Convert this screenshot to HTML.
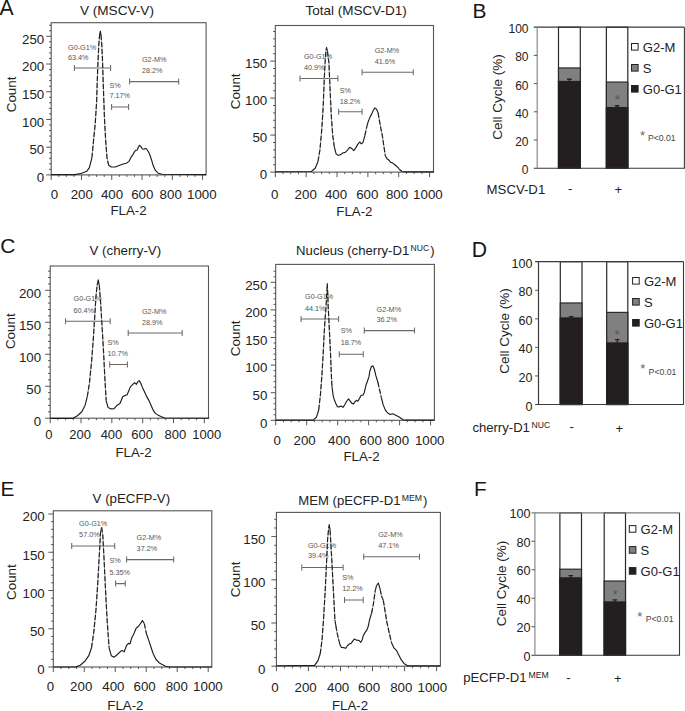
<!DOCTYPE html>
<html><head><meta charset="utf-8"><style>
html,body{margin:0;padding:0;background:#fff;}
svg{display:block;font-family:"Liberation Sans", sans-serif;}
</style></head><body>
<svg width="685" height="711" viewBox="0 0 685 711">
<rect width="685" height="711" fill="#fff"/>
<text x="-0.6" y="14.7" font-size="21.2" text-anchor="start" fill="#161616">A</text>
<text x="472.5" y="18.2" font-size="20.9" text-anchor="start" fill="#161616">B</text>
<text x="0.3" y="252.8" font-size="21" text-anchor="start" fill="#161616">C</text>
<text x="471.7" y="256.5" font-size="21.2" text-anchor="start" fill="#161616">D</text>
<text x="0.5" y="496.4" font-size="20.8" text-anchor="start" fill="#161616">E</text>
<text x="474.1" y="496.4" font-size="20.8" text-anchor="start" fill="#161616">F</text>
<rect x="51.2" y="22.7" width="154.9" height="152.2" fill="none" stroke="#555" stroke-width="1.1"/>
<path d="M46.2 174.9H51.2M49 169.36H51.2M49 163.81H51.2M49 158.27H51.2M49 152.72H51.2M46.2 147.18H51.2M49 141.64H51.2M49 136.09H51.2M49 130.55H51.2M49 125H51.2M46.2 119.46H51.2M49 113.92H51.2M49 108.37H51.2M49 102.83H51.2M49 97.28H51.2M46.2 91.74H51.2M49 86.2H51.2M49 80.65H51.2M49 75.11H51.2M49 69.56H51.2M46.2 64.02H51.2M49 58.48H51.2M49 52.93H51.2M49 47.39H51.2M49 41.84H51.2M46.2 36.3H51.2M49 30.76H51.2M49 25.21H51.2M51.2 174.9V179.9M58.77 174.9V176.9M66.34 174.9V176.9M73.91 174.9V176.9M81.48 174.9V179.9M89.05 174.9V176.9M96.62 174.9V176.9M104.19 174.9V176.9M111.76 174.9V179.9M119.33 174.9V176.9M126.9 174.9V176.9M134.47 174.9V176.9M142.04 174.9V179.9M149.61 174.9V176.9M157.18 174.9V176.9M164.75 174.9V176.9M172.32 174.9V179.9M179.89 174.9V176.9M187.46 174.9V176.9M195.03 174.9V176.9M202.6 174.9V179.9" stroke="#555" stroke-width="1" fill="none"/>
<text x="44.2" y="182.2" font-size="13.3" text-anchor="end" fill="#222">0</text>
<text x="44.2" y="154.48" font-size="13.3" text-anchor="end" fill="#222">50</text>
<text x="44.2" y="126.76" font-size="13.3" text-anchor="end" fill="#222">100</text>
<text x="44.2" y="99.04" font-size="13.3" text-anchor="end" fill="#222">150</text>
<text x="44.2" y="71.32" font-size="13.3" text-anchor="end" fill="#222">200</text>
<text x="44.2" y="43.6" font-size="13.3" text-anchor="end" fill="#222">250</text>
<text x="54.5" y="198.5" font-size="13.3" text-anchor="middle" fill="#222">0</text>
<text x="81.8" y="198.5" font-size="13.3" text-anchor="middle" fill="#222">200</text>
<text x="112" y="198.5" font-size="13.3" text-anchor="middle" fill="#222">400</text>
<text x="142.3" y="198.5" font-size="13.3" text-anchor="middle" fill="#222">600</text>
<text x="170.7" y="198.5" font-size="13.3" text-anchor="middle" fill="#222">800</text>
<text x="201.8" y="198.5" font-size="13.3" text-anchor="middle" fill="#222">1000</text>
<text x="0" y="0" font-size="13.4" text-anchor="middle" fill="#222" transform="translate(15.7 94.4) rotate(-90)">Count</text>
<text x="128.5" y="215.2" font-size="13.3" text-anchor="middle" fill="#222">FLA-2</text>
<text x="79.9" y="15" font-size="13.6" fill="#222">V (MSCV-V)</text>
<path d="M74.4 67.9H110.6M74.4 64.9V70.9M110.6 64.9V70.9" stroke="#6a6a6a" stroke-width="1.05" fill="none"/>
<path d="M111.6 106.9H128.6M111.6 103.9V109.9M128.6 103.9V109.9" stroke="#6a6a6a" stroke-width="1.05" fill="none"/>
<path d="M129.6 81.6H178.7M129.6 78.6V84.6M178.7 78.6V84.6" stroke="#6a6a6a" stroke-width="1.05" fill="none"/>
<text x="68" y="49.7" font-size="7.25" text-anchor="start" fill="#555">G0-G1%</text>
<text x="68" y="59.9" font-size="7.25" text-anchor="start" fill="#555">63.4%</text>
<text x="109.5" y="87.6" font-size="7.25" text-anchor="start" fill="#555">S%</text>
<text x="109.5" y="98" font-size="7.25" text-anchor="start" fill="#555">7.17%</text>
<text x="141.9" y="62.1" font-size="7.25" text-anchor="start" fill="#555">G2-M%</text>
<text x="141.9" y="73.4" font-size="7.25" text-anchor="start" fill="#555">28.2%</text>
<path d="M51.3 174.6 L75 174.6 L81.7 173.3 L86.8 171.2 L89.3 167.9 L91.9 157.8" stroke="#1e1e1e" stroke-width="1.15" fill="none" stroke-linejoin="round"/>
<path d="M91.9 157.8 L93.5 140.9 L95.2 124 L96.6 102.1 L97.4 76.9 L98.1 60 L98.8 45 L99.6 35" stroke="#a8a8a8" stroke-width="1.1" fill="none" stroke-linejoin="round"/>
<path d="M91.9 157.8 L93.5 140.9 L95.2 124 L96.6 102.1 L97.4 76.9 L98.1 60 L98.8 45 L99.6 35" stroke="#1e1e1e" stroke-width="1.15" fill="none" stroke-dasharray="5 2" stroke-linejoin="round"/>
<path d="M99.6 35 L100.3 31.2 L101 35" stroke="#1e1e1e" stroke-width="1.15" fill="none" stroke-linejoin="round"/>
<path d="M101 35 L101.8 45 L102.5 60 L103.3 85.3 L104.5 119 L105.7 140.9 L107 157.8 L108.7 165.3" stroke="#a8a8a8" stroke-width="1.1" fill="none" stroke-linejoin="round"/>
<path d="M101 35 L101.8 45 L102.5 60 L103.3 85.3 L104.5 119 L105.7 140.9 L107 157.8 L108.7 165.3" stroke="#1e1e1e" stroke-width="1.15" fill="none" stroke-dasharray="5 2" stroke-linejoin="round"/>
<path d="M108.7 165.3 L111.2 167 L115.4 167 L119.7 165.3 L123.9 163.7 L126.4 163.2 L128.9 161.4 L131.2 156.9 L132.9 154.6 L134.6 151.6 L135.7 150.3 L137.2 150.1 L138.3 147.3 L139.4 145.3 L140.8 146.4 L142.4 149 L143.9 149.2 L145.3 148.4 L146.6 149 L148.1 151.2 L149.8 154.6 L151.5 159.7 L153.1 165.3 L155.4 170.4 L158.2 173.2 L162.1 174.3 L206.1 174.6" stroke="#1e1e1e" stroke-width="1.15" fill="none" stroke-linejoin="round"/>
<rect x="275.3" y="25.5" width="158.2" height="146.6" fill="none" stroke="#555" stroke-width="1.1"/>
<path d="M270.3 172.1H275.3M273.1 164.7H275.3M273.1 157.3H275.3M273.1 149.9H275.3M273.1 142.5H275.3M270.3 135.1H275.3M273.1 127.7H275.3M273.1 120.3H275.3M273.1 112.9H275.3M273.1 105.5H275.3M270.3 98.1H275.3M273.1 90.7H275.3M273.1 83.3H275.3M273.1 75.9H275.3M273.1 68.5H275.3M270.3 61.1H275.3M273.1 53.7H275.3M273.1 46.3H275.3M273.1 38.9H275.3M273.1 31.5H275.3M275.3 172.1V177.1M283.01 172.1V174.1M290.73 172.1V174.1M298.44 172.1V174.1M306.16 172.1V177.1M313.88 172.1V174.1M321.59 172.1V174.1M329.31 172.1V174.1M337.02 172.1V177.1M344.74 172.1V174.1M352.45 172.1V174.1M360.17 172.1V174.1M367.88 172.1V177.1M375.6 172.1V174.1M383.31 172.1V174.1M391.02 172.1V174.1M398.74 172.1V177.1M406.46 172.1V174.1M414.17 172.1V174.1M421.88 172.1V174.1M429.6 172.1V177.1" stroke="#555" stroke-width="1" fill="none"/>
<text x="267.2" y="179.4" font-size="13.3" text-anchor="end" fill="#222">0</text>
<text x="267.2" y="142.4" font-size="13.3" text-anchor="end" fill="#222">50</text>
<text x="267.2" y="105.4" font-size="13.3" text-anchor="end" fill="#222">100</text>
<text x="267.2" y="68.4" font-size="13.3" text-anchor="end" fill="#222">150</text>
<text x="274.8" y="198.9" font-size="13.3" text-anchor="middle" fill="#222">0</text>
<text x="305.7" y="198.9" font-size="13.3" text-anchor="middle" fill="#222">200</text>
<text x="336" y="198.9" font-size="13.3" text-anchor="middle" fill="#222">400</text>
<text x="367.3" y="198.9" font-size="13.3" text-anchor="middle" fill="#222">600</text>
<text x="397" y="198.9" font-size="13.3" text-anchor="middle" fill="#222">800</text>
<text x="427.9" y="198.9" font-size="13.3" text-anchor="middle" fill="#222">1000</text>
<text x="0" y="0" font-size="13.4" text-anchor="middle" fill="#222" transform="translate(240.3 91.3) rotate(-90)">Count</text>
<text x="354.4" y="215.6" font-size="13.3" text-anchor="middle" fill="#222">FLA-2</text>
<text x="305.6" y="14.8" font-size="13.5" fill="#222">Total (MSCV-D1)</text>
<path d="M300 78.5H337.9M300 75.5V81.5M337.9 75.5V81.5" stroke="#6a6a6a" stroke-width="1.05" fill="none"/>
<path d="M338.6 111.8H362.1M338.6 108.8V114.8M362.1 108.8V114.8" stroke="#6a6a6a" stroke-width="1.05" fill="none"/>
<path d="M362.1 72.2H413.3M362.1 69.2V75.2M413.3 69.2V75.2" stroke="#6a6a6a" stroke-width="1.05" fill="none"/>
<text x="303.9" y="59.2" font-size="7.25" text-anchor="start" fill="#555">G0-G1%</text>
<text x="303.9" y="69.8" font-size="7.25" text-anchor="start" fill="#555">40.9%</text>
<text x="339.7" y="92.5" font-size="7.25" text-anchor="start" fill="#555">S%</text>
<text x="339.7" y="103.8" font-size="7.25" text-anchor="start" fill="#555">18.2%</text>
<text x="374.7" y="53.3" font-size="7.25" text-anchor="start" fill="#555">G2-M%</text>
<text x="374.7" y="63.8" font-size="7.25" text-anchor="start" fill="#555">41.6%</text>
<path d="M275.1 171.8 L311.4 171.5 L315.2 168.2 L318 161.5" stroke="#1e1e1e" stroke-width="1.15" fill="none" stroke-linejoin="round"/>
<path d="M318 161.5 L319.9 150.1 L321.8 129.2 L323.2 106.5 L324.3 78 L325.3 59 L326.2 48.5" stroke="#a8a8a8" stroke-width="1.1" fill="none" stroke-linejoin="round"/>
<path d="M318 161.5 L319.9 150.1 L321.8 129.2 L323.2 106.5 L324.3 78 L325.3 59 L326.2 48.5" stroke="#1e1e1e" stroke-width="1.15" fill="none" stroke-dasharray="5 2" stroke-linejoin="round"/>
<path d="M326.2 48.5 L326.6 47.6 L327.5 51.4" stroke="#1e1e1e" stroke-width="1.15" fill="none" stroke-linejoin="round"/>
<path d="M327.5 51.4 L328.9 62.8 L330 87.5 L331.3 116 L332.7 135 L334.2 146.3" stroke="#a8a8a8" stroke-width="1.1" fill="none" stroke-linejoin="round"/>
<path d="M327.5 51.4 L328.9 62.8 L330 87.5 L331.3 116 L332.7 135 L334.2 146.3" stroke="#1e1e1e" stroke-width="1.15" fill="none" stroke-dasharray="5 2" stroke-linejoin="round"/>
<path d="M334.2 146.3 L336.1 153.9 L338 155.2 L340.3 154.9 L342.7 153 L345.2 152.4 L347.5 150.1 L349.7 147.3 L351.8 148.6 L353.8 150.7 L356 147.4 L357.8 144.4 L359.6 142 L361.4 143.8 L362.9 142.6 L364.9 135.4" stroke="#1e1e1e" stroke-width="1.15" fill="none" stroke-linejoin="round"/>
<path d="M364.9 135.4 L366.7 127" stroke="#a8a8a8" stroke-width="1.1" fill="none" stroke-linejoin="round"/>
<path d="M364.9 135.4 L366.7 127" stroke="#1e1e1e" stroke-width="1.15" fill="none" stroke-dasharray="5 2" stroke-linejoin="round"/>
<path d="M366.7 127 L368.2 121.7 L370.1 116.9 L371.8 113.9 L373.3 110.3 L374.9 107.9 L376.5 109.1 L378.1 112.7" stroke="#1e1e1e" stroke-width="1.15" fill="none" stroke-linejoin="round"/>
<path d="M378.1 112.7 L379.3 119.9 L380.8 128.2 L382.3 135.4 L383.7 145 L385.3 155.7" stroke="#a8a8a8" stroke-width="1.1" fill="none" stroke-linejoin="round"/>
<path d="M378.1 112.7 L379.3 119.9 L380.8 128.2 L382.3 135.4 L383.7 145 L385.3 155.7" stroke="#1e1e1e" stroke-width="1.15" fill="none" stroke-dasharray="5 2" stroke-linejoin="round"/>
<path d="M385.3 155.7 L387 158.7 L388.8 159.9 L390.6 162.3 L392.4 162.9 L394.8 164.7 L397.2 166.7 L399.6 169.5 L402 171.5 L405 171.9 L433.9 171.9" stroke="#1e1e1e" stroke-width="1.15" fill="none" stroke-linejoin="round"/>
<rect x="50.2" y="266" width="158.3" height="152.2" fill="none" stroke="#555" stroke-width="1.1"/>
<path d="M45.2 418.2H50.2M48 411.81H50.2M48 405.41H50.2M48 399.01H50.2M48 392.62H50.2M45.2 386.22H50.2M48 379.83H50.2M48 373.44H50.2M48 367.04H50.2M48 360.64H50.2M45.2 354.25H50.2M48 347.86H50.2M48 341.46H50.2M48 335.06H50.2M48 328.67H50.2M45.2 322.27H50.2M48 315.88H50.2M48 309.49H50.2M48 303.09H50.2M48 296.69H50.2M45.2 290.3H50.2M48 283.9H50.2M48 277.51H50.2M48 271.12H50.2M50.2 418.2V423.2M57.91 418.2V420.2M65.61 418.2V420.2M73.31 418.2V420.2M81.02 418.2V423.2M88.72 418.2V420.2M96.43 418.2V420.2M104.13 418.2V420.2M111.84 418.2V423.2M119.55 418.2V420.2M127.25 418.2V420.2M134.95 418.2V420.2M142.66 418.2V423.2M150.37 418.2V420.2M158.07 418.2V420.2M165.77 418.2V420.2M173.48 418.2V423.2M181.19 418.2V420.2M188.89 418.2V420.2M196.59 418.2V420.2M204.3 418.2V423.2" stroke="#555" stroke-width="1" fill="none"/>
<text x="41.1" y="425.5" font-size="13.3" text-anchor="end" fill="#222">0</text>
<text x="41.1" y="393.52" font-size="13.3" text-anchor="end" fill="#222">50</text>
<text x="41.1" y="361.55" font-size="13.3" text-anchor="end" fill="#222">100</text>
<text x="41.1" y="329.57" font-size="13.3" text-anchor="end" fill="#222">150</text>
<text x="41.1" y="297.6" font-size="13.3" text-anchor="end" fill="#222">200</text>
<text x="48.9" y="439.2" font-size="13" text-anchor="middle" fill="#222">0</text>
<text x="80.1" y="439.2" font-size="13" text-anchor="middle" fill="#222">200</text>
<text x="111.5" y="439.2" font-size="13" text-anchor="middle" fill="#222">400</text>
<text x="142.2" y="439.2" font-size="13" text-anchor="middle" fill="#222">600</text>
<text x="175.3" y="439.2" font-size="13" text-anchor="middle" fill="#222">800</text>
<text x="206.7" y="439.2" font-size="13" text-anchor="middle" fill="#222">1000</text>
<text x="0" y="0" font-size="13.4" text-anchor="middle" fill="#222" transform="translate(15 331.2) rotate(-90)">Count</text>
<text x="133.5" y="456.8" font-size="13.3" text-anchor="middle" fill="#222">FLA-2</text>
<text x="89.5" y="254.8" font-size="13.3" fill="#222">V (cherry-V)</text>
<path d="M65.5 321.2H110.2M65.5 318.2V324.2M110.2 318.2V324.2" stroke="#6a6a6a" stroke-width="1.05" fill="none"/>
<path d="M109.7 364.5H127.4M109.7 361.5V367.5M127.4 361.5V367.5" stroke="#6a6a6a" stroke-width="1.05" fill="none"/>
<path d="M128.2 332.9H182.2M128.2 329.9V335.9M182.2 329.9V335.9" stroke="#6a6a6a" stroke-width="1.05" fill="none"/>
<text x="73.5" y="301.1" font-size="7.25" text-anchor="start" fill="#555">G0-G1%</text>
<text x="73.5" y="312.5" font-size="7.25" text-anchor="start" fill="#555">60.4%</text>
<text x="107.5" y="344.7" font-size="7.25" text-anchor="start" fill="#555">S%</text>
<text x="107.5" y="356.1" font-size="7.25" text-anchor="start" fill="#555">10.7%</text>
<text x="141.9" y="314" font-size="7.25" text-anchor="start" fill="#555">G2-M%</text>
<text x="141.9" y="324.6" font-size="7.25" text-anchor="start" fill="#555">28.9%</text>
<path d="M50.2 418.3 L73.1 418.3 L77.4 415.7 L81.8 411.7 L85.1 405.2 L87.3 396.5" stroke="#1e1e1e" stroke-width="1.15" fill="none" stroke-linejoin="round"/>
<path d="M87.3 396.5 L89.4 383.4 L91.6 361.6 L93.4 337.6 L94.9 313.6 L96 296.2 L97.1 285.3" stroke="#a8a8a8" stroke-width="1.1" fill="none" stroke-linejoin="round"/>
<path d="M87.3 396.5 L89.4 383.4 L91.6 361.6 L93.4 337.6 L94.9 313.6 L96 296.2 L97.1 285.3" stroke="#1e1e1e" stroke-width="1.15" fill="none" stroke-dasharray="5 2" stroke-linejoin="round"/>
<path d="M97.1 285.3 L98.2 279.8 L99.3 285.3" stroke="#1e1e1e" stroke-width="1.15" fill="none" stroke-linejoin="round"/>
<path d="M99.3 285.3 L100.6 302.7 L102.1 326.7 L103.6 352.9 L104.9 379 L106.2 400.8" stroke="#a8a8a8" stroke-width="1.1" fill="none" stroke-linejoin="round"/>
<path d="M99.3 285.3 L100.6 302.7 L102.1 326.7 L103.6 352.9 L104.9 379 L106.2 400.8" stroke="#1e1e1e" stroke-width="1.15" fill="none" stroke-dasharray="5 2" stroke-linejoin="round"/>
<path d="M106.2 400.8 L108 407.4 L111.2 408.9 L114.1 408.7 L117.1 405.2 L120 403.5 L122.8 396.5 L125.4 395.4 L127.1 394.8 L128.7 391.1 L130.3 386.9 L132.4 384.8 L134.5 382.7 L136.4 384.3 L137.9 381.6 L139.2 380.6 L140.8 383.2 L142.4 387.4 L144.5 391.7 L146.6 396.4 L148.7 400.1 L150.8 404.8 L152.9 409.6 L155.1 413.1 L157.7 414.9 L160.9 416.4 L164.5 418 L209.2 418.2" stroke="#1e1e1e" stroke-width="1.15" fill="none" stroke-linejoin="round"/>
<rect x="275.7" y="264.4" width="158.7" height="155.9" fill="none" stroke="#555" stroke-width="1.1"/>
<path d="M270.7 420.3H275.7M273.5 414.78H275.7M273.5 409.26H275.7M273.5 403.74H275.7M273.5 398.22H275.7M270.7 392.7H275.7M273.5 387.18H275.7M273.5 381.66H275.7M273.5 376.14H275.7M273.5 370.62H275.7M270.7 365.1H275.7M273.5 359.58H275.7M273.5 354.06H275.7M273.5 348.54H275.7M273.5 343.02H275.7M270.7 337.5H275.7M273.5 331.98H275.7M273.5 326.46H275.7M273.5 320.94H275.7M273.5 315.42H275.7M270.7 309.9H275.7M273.5 304.38H275.7M273.5 298.86H275.7M273.5 293.34H275.7M273.5 287.82H275.7M270.7 282.3H275.7M273.5 276.78H275.7M273.5 271.26H275.7M275.7 420.3V425.3M283.44 420.3V422.3M291.19 420.3V422.3M298.94 420.3V422.3M306.68 420.3V425.3M314.43 420.3V422.3M322.17 420.3V422.3M329.91 420.3V422.3M337.66 420.3V425.3M345.4 420.3V422.3M353.15 420.3V422.3M360.89 420.3V422.3M368.64 420.3V425.3M376.38 420.3V422.3M384.13 420.3V422.3M391.88 420.3V422.3M399.62 420.3V425.3M407.37 420.3V422.3M415.11 420.3V422.3M422.86 420.3V422.3M430.6 420.3V425.3" stroke="#555" stroke-width="1" fill="none"/>
<text x="267.4" y="427.6" font-size="13.3" text-anchor="end" fill="#222">0</text>
<text x="267.4" y="400" font-size="13.3" text-anchor="end" fill="#222">50</text>
<text x="267.4" y="372.4" font-size="13.3" text-anchor="end" fill="#222">100</text>
<text x="267.4" y="344.8" font-size="13.3" text-anchor="end" fill="#222">150</text>
<text x="267.4" y="317.2" font-size="13.3" text-anchor="end" fill="#222">200</text>
<text x="267.4" y="289.6" font-size="13.3" text-anchor="end" fill="#222">250</text>
<text x="277.2" y="445" font-size="13.3" text-anchor="middle" fill="#222">0</text>
<text x="304.6" y="445" font-size="13.3" text-anchor="middle" fill="#222">200</text>
<text x="339.2" y="445" font-size="13.3" text-anchor="middle" fill="#222">400</text>
<text x="370.7" y="445" font-size="13.3" text-anchor="middle" fill="#222">600</text>
<text x="398" y="445" font-size="13.3" text-anchor="middle" fill="#222">800</text>
<text x="429.7" y="445" font-size="13.3" text-anchor="middle" fill="#222">1000</text>
<text x="0" y="0" font-size="13.4" text-anchor="middle" fill="#222" transform="translate(239.7 338.3) rotate(-90)">Count</text>
<text x="361.5" y="461.2" font-size="13.3" text-anchor="middle" fill="#222">FLA-2</text>
<text x="296.1" y="255.1" font-size="13.15" fill="#222">Nucleus (cherry-D1<tspan font-size="8.6" dx="1.3" dy="-4.4">NUC</tspan><tspan dx="1" dy="4.4">)</tspan></text>
<path d="M301.1 318.9H338.6M301.1 315.9V321.9M338.6 315.9V321.9" stroke="#6a6a6a" stroke-width="1.05" fill="none"/>
<path d="M339.3 354.2H363.3M339.3 351.2V357.2M363.3 351.2V357.2" stroke="#6a6a6a" stroke-width="1.05" fill="none"/>
<path d="M364.3 330.6H414.5M364.3 327.6V333.6M414.5 327.6V333.6" stroke="#6a6a6a" stroke-width="1.05" fill="none"/>
<text x="305" y="299" font-size="7.25" text-anchor="start" fill="#555">G0-G1%</text>
<text x="305" y="310.9" font-size="7.25" text-anchor="start" fill="#555">44.1%</text>
<text x="340.7" y="333.3" font-size="7.25" text-anchor="start" fill="#555">S%</text>
<text x="340.7" y="344.9" font-size="7.25" text-anchor="start" fill="#555">18.7%</text>
<text x="376.5" y="311.6" font-size="7.25" text-anchor="start" fill="#555">G2-M%</text>
<text x="376.5" y="322.1" font-size="7.25" text-anchor="start" fill="#555">36.2%</text>
<path d="M275.7 420.1 L313.1 420.1 L316.4 417.3 L318.7 410" stroke="#1e1e1e" stroke-width="1.15" fill="none" stroke-linejoin="round"/>
<path d="M318.7 410 L320.5 394 L322 374 L323.2 353.2 L324.1 334.9 L325.1 318.4 L326 307.4 L326.7 295 L327.3 283.7 L327.8 295 L328.2 307.4 L328.8 318.4 L329.6 334.9 L330.5 353.2 L331.2 371.5 L331.6 380 L332 386.3" stroke="#a8a8a8" stroke-width="1.1" fill="none" stroke-linejoin="round"/>
<path d="M318.7 410 L320.5 394 L322 374 L323.2 353.2 L324.1 334.9 L325.1 318.4 L326 307.4 L326.7 295 L327.3 283.7 L327.8 295 L328.2 307.4 L328.8 318.4 L329.6 334.9 L330.5 353.2 L331.2 371.5 L331.6 380 L332 386.3" stroke="#1e1e1e" stroke-width="1.15" fill="none" stroke-dasharray="5 2" stroke-linejoin="round"/>
<path d="M332 386.3 L332.6 391.4 L333.2 395.8 L334.5 400.3 L335.8 403.4 L337.3 406.6 L338.9 406.9 L341.1 406 L343 407.3 L344.6 405 L346.5 401.5 L348.5 398.9 L350.3 401.2 L351.9 403.4 L353.5 403.9 L354.7 402.2 L356.3 400.3 L357.9 401.2 L359.5 398.4 L361.1 395.2 L363 395.2 L364.2 392.7 L365 389.5 L366 385 L367.4 381.3 L368.9 376.9 L369.9 371 L371.4 366.5 L372.9 365.8 L374.4 369.5 L375.8 375.4 L377.8 382" stroke="#1e1e1e" stroke-width="1.15" fill="none" stroke-linejoin="round"/>
<path d="M377.8 382 L379.5 389.4 L381.3 397.5" stroke="#a8a8a8" stroke-width="1.1" fill="none" stroke-linejoin="round"/>
<path d="M377.8 382 L379.5 389.4 L381.3 397.5" stroke="#1e1e1e" stroke-width="1.15" fill="none" stroke-dasharray="5 2" stroke-linejoin="round"/>
<path d="M381.3 397.5 L383.2 404.9 L385.4 410.1 L387.7 413 L390.2 414.5 L392.8 413.8 L395.8 415.3 L398.7 416.7 L401 418.2 L403.2 419.7 L406 420.1 L434.4 420.1" stroke="#1e1e1e" stroke-width="1.15" fill="none" stroke-linejoin="round"/>
<rect x="53.3" y="510.8" width="158.5" height="156.2" fill="none" stroke="#555" stroke-width="1.1"/>
<path d="M48.3 667H53.3M51.1 659.35H53.3M51.1 651.7H53.3M51.1 644.05H53.3M51.1 636.4H53.3M48.3 628.75H53.3M51.1 621.1H53.3M51.1 613.45H53.3M51.1 605.8H53.3M51.1 598.15H53.3M48.3 590.5H53.3M51.1 582.85H53.3M51.1 575.2H53.3M51.1 567.55H53.3M51.1 559.9H53.3M48.3 552.25H53.3M51.1 544.6H53.3M51.1 536.95H53.3M51.1 529.3H53.3M51.1 521.65H53.3M48.3 514H53.3M53.3 667V672M61.04 667V669M68.79 667V669M76.53 667V669M84.28 667V672M92.03 667V669M99.77 667V669M107.52 667V669M115.26 667V672M123 667V669M130.75 667V669M138.5 667V669M146.24 667V672M153.99 667V669M161.73 667V669M169.48 667V669M177.22 667V672M184.97 667V669M192.71 667V669M200.45 667V669M208.2 667V672" stroke="#555" stroke-width="1" fill="none"/>
<text x="44.7" y="674.3" font-size="13.3" text-anchor="end" fill="#222">0</text>
<text x="44.7" y="636.05" font-size="13.3" text-anchor="end" fill="#222">50</text>
<text x="44.7" y="597.8" font-size="13.3" text-anchor="end" fill="#222">100</text>
<text x="44.7" y="559.55" font-size="13.3" text-anchor="end" fill="#222">150</text>
<text x="44.7" y="521.3" font-size="13.3" text-anchor="end" fill="#222">200</text>
<text x="50.5" y="690.9" font-size="13.3" text-anchor="middle" fill="#222">0</text>
<text x="81.2" y="690.9" font-size="13.3" text-anchor="middle" fill="#222">200</text>
<text x="113.4" y="690.9" font-size="13.3" text-anchor="middle" fill="#222">400</text>
<text x="144.6" y="690.9" font-size="13.3" text-anchor="middle" fill="#222">600</text>
<text x="176.8" y="690.9" font-size="13.3" text-anchor="middle" fill="#222">800</text>
<text x="207.9" y="690.9" font-size="13.3" text-anchor="middle" fill="#222">1000</text>
<text x="0" y="0" font-size="13.4" text-anchor="middle" fill="#222" transform="translate(15.6 582.1) rotate(-90)">Count</text>
<text x="125.4" y="709.5" font-size="13.3" text-anchor="middle" fill="#222">FLA-2</text>
<text x="92.6" y="503.2" font-size="13.3" fill="#222">V (pECFP-V)</text>
<path d="M71.7 546H114.7M71.7 543V549M114.7 543V549" stroke="#6a6a6a" stroke-width="1.05" fill="none"/>
<path d="M115.6 583.6H125.3M115.6 580.6V586.6M125.3 580.6V586.6" stroke="#6a6a6a" stroke-width="1.05" fill="none"/>
<path d="M126.6 559.6H173.7M126.6 556.6V562.6M173.7 556.6V562.6" stroke="#6a6a6a" stroke-width="1.05" fill="none"/>
<text x="79.1" y="525.7" font-size="7.25" text-anchor="start" fill="#555">G0-G1%</text>
<text x="79.1" y="537" font-size="7.25" text-anchor="start" fill="#555">57.0%</text>
<text x="109.5" y="563.3" font-size="7.25" text-anchor="start" fill="#555">S%</text>
<text x="109.5" y="574.6" font-size="7.25" text-anchor="start" fill="#555">5.35%</text>
<text x="136.6" y="539.8" font-size="7.25" text-anchor="start" fill="#555">G2-M%</text>
<text x="136.6" y="551" font-size="7.25" text-anchor="start" fill="#555">37.2%</text>
<path d="M53.6 667 L75.8 666.9 L80.3 665.3 L84.8 661.3 L88.8 655.7 L91.5 647.8" stroke="#1e1e1e" stroke-width="1.15" fill="none" stroke-linejoin="round"/>
<path d="M91.5 647.8 L93.8 632 L96 609.5 L97.8 582.5 L99.4 553.3 L100.5 533" stroke="#a8a8a8" stroke-width="1.1" fill="none" stroke-linejoin="round"/>
<path d="M91.5 647.8 L93.8 632 L96 609.5 L97.8 582.5 L99.4 553.3 L100.5 533" stroke="#1e1e1e" stroke-width="1.15" fill="none" stroke-dasharray="5 2" stroke-linejoin="round"/>
<path d="M100.5 533 L101.6 527.4" stroke="#1e1e1e" stroke-width="1.15" fill="none" stroke-linejoin="round"/>
<path d="M101.6 527.4 L102.8 535.3 L104.1 560 L105.7 593.8 L107.3 623 L109.1 647.8" stroke="#a8a8a8" stroke-width="1.1" fill="none" stroke-linejoin="round"/>
<path d="M101.6 527.4 L102.8 535.3 L104.1 560 L105.7 593.8 L107.3 623 L109.1 647.8" stroke="#1e1e1e" stroke-width="1.15" fill="none" stroke-dasharray="5 2" stroke-linejoin="round"/>
<path d="M109.1 647.8 L111.3 655.7 L114 657.2 L117.4 654.5 L120.8 651.2 L122.3 650.4 L124.2 651.9 L126.6 645.3 L128.5 643.4 L129.9 644 L131.8 637.7 L134.2 633 L136.1 628.2 L138.6 626.3 L140.5 623.5 L142.4 620.6 L144.3 623.5" stroke="#1e1e1e" stroke-width="1.15" fill="none" stroke-linejoin="round"/>
<path d="M144.3 623.5 L146.2 633" stroke="#a8a8a8" stroke-width="1.1" fill="none" stroke-linejoin="round"/>
<path d="M144.3 623.5 L146.2 633" stroke="#1e1e1e" stroke-width="1.15" fill="none" stroke-dasharray="5 2" stroke-linejoin="round"/>
<path d="M146.2 633 L148.5 639.6 L150.7 646.2 L153.2 653.8 L156 659.5 L159.8 663.3 L165.5 666.2 L170 667 L212.1 667" stroke="#1e1e1e" stroke-width="1.15" fill="none" stroke-linejoin="round"/>
<rect x="276.4" y="512.4" width="164" height="153.8" fill="none" stroke="#555" stroke-width="1.1"/>
<path d="M271.4 666.2H276.4M274.2 657.56H276.4M274.2 648.92H276.4M274.2 640.28H276.4M274.2 631.64H276.4M271.4 623H276.4M274.2 614.36H276.4M274.2 605.72H276.4M274.2 597.08H276.4M274.2 588.44H276.4M271.4 579.8H276.4M274.2 571.16H276.4M274.2 562.52H276.4M274.2 553.88H276.4M274.2 545.24H276.4M271.4 536.6H276.4M274.2 527.96H276.4M274.2 519.32H276.4M276.4 666.2V671.2M284.41 666.2V668.2M292.42 666.2V668.2M300.43 666.2V668.2M308.44 666.2V671.2M316.45 666.2V668.2M324.46 666.2V668.2M332.47 666.2V668.2M340.48 666.2V671.2M348.49 666.2V668.2M356.5 666.2V668.2M364.51 666.2V668.2M372.52 666.2V671.2M380.53 666.2V668.2M388.54 666.2V668.2M396.55 666.2V668.2M404.56 666.2V671.2M412.57 666.2V668.2M420.58 666.2V668.2M428.59 666.2V668.2M436.6 666.2V671.2" stroke="#555" stroke-width="1" fill="none"/>
<text x="265.5" y="673.5" font-size="13.3" text-anchor="end" fill="#222">0</text>
<text x="265.5" y="630.3" font-size="13.3" text-anchor="end" fill="#222">50</text>
<text x="265.5" y="587.1" font-size="13.3" text-anchor="end" fill="#222">100</text>
<text x="265.5" y="543.9" font-size="13.3" text-anchor="end" fill="#222">150</text>
<text x="274.9" y="691.6" font-size="13.3" text-anchor="middle" fill="#222">0</text>
<text x="305.6" y="691.6" font-size="13.3" text-anchor="middle" fill="#222">200</text>
<text x="338.1" y="691.6" font-size="13.3" text-anchor="middle" fill="#222">400</text>
<text x="369" y="691.6" font-size="13.3" text-anchor="middle" fill="#222">600</text>
<text x="401.3" y="691.6" font-size="13.3" text-anchor="middle" fill="#222">800</text>
<text x="432.3" y="691.6" font-size="13.3" text-anchor="middle" fill="#222">1000</text>
<text x="0" y="0" font-size="13.4" text-anchor="middle" fill="#222" transform="translate(239.7 579.4) rotate(-90)">Count</text>
<text x="350.1" y="709.6" font-size="13.3" text-anchor="middle" fill="#222">FLA-2</text>
<text x="298.3" y="505.3" font-size="13.15" fill="#222">MEM (pECFP-D1<tspan font-size="8.7" dx="1.3" dy="-4.4">MEM</tspan><tspan dx="1" dy="4.4">)</tspan></text>
<path d="M301.8 567.5H343.1M301.8 564.5V570.5M343.1 564.5V570.5" stroke="#6a6a6a" stroke-width="1.05" fill="none"/>
<path d="M344.5 600H363.2M344.5 597V603M363.2 597V603" stroke="#6a6a6a" stroke-width="1.05" fill="none"/>
<path d="M363.7 556.8H419.5M363.7 553.8V559.8M419.5 553.8V559.8" stroke="#6a6a6a" stroke-width="1.05" fill="none"/>
<text x="307.9" y="547.7" font-size="7.25" text-anchor="start" fill="#555">G0-G1%</text>
<text x="307.9" y="558.2" font-size="7.25" text-anchor="start" fill="#555">39.4%</text>
<text x="342.2" y="579.8" font-size="7.25" text-anchor="start" fill="#555">S%</text>
<text x="342.2" y="591" font-size="7.25" text-anchor="start" fill="#555">12.2%</text>
<text x="378.2" y="537.3" font-size="7.25" text-anchor="start" fill="#555">G2-M%</text>
<text x="378.3" y="547.6" font-size="7.25" text-anchor="start" fill="#555">47.1%</text>
<path d="M276.4 665.8 L314.6 665.4 L318 660.6 L320.2 653.8" stroke="#1e1e1e" stroke-width="1.15" fill="none" stroke-linejoin="round"/>
<path d="M320.2 653.8 L322 640.3 L323.6 617.9 L325.2 590.9 L326.5 563.9 L327.6 539.2 L328.8 526.9" stroke="#a8a8a8" stroke-width="1.1" fill="none" stroke-linejoin="round"/>
<path d="M320.2 653.8 L322 640.3 L323.6 617.9 L325.2 590.9 L326.5 563.9 L327.6 539.2 L328.8 526.9" stroke="#1e1e1e" stroke-width="1.15" fill="none" stroke-dasharray="5 2" stroke-linejoin="round"/>
<path d="M328.8 526.9 L329.2 524.6 L330.1 530.2" stroke="#1e1e1e" stroke-width="1.15" fill="none" stroke-linejoin="round"/>
<path d="M330.1 530.2 L331.5 554.9 L333.3 588.7 L334.4 610 L334.9 620" stroke="#a8a8a8" stroke-width="1.1" fill="none" stroke-linejoin="round"/>
<path d="M330.1 530.2 L331.5 554.9 L333.3 588.7 L334.4 610 L334.9 620" stroke="#1e1e1e" stroke-width="1.15" fill="none" stroke-dasharray="5 2" stroke-linejoin="round"/>
<path d="M334.9 620 L335.9 625.8" stroke="#1e1e1e" stroke-width="1.15" fill="none" stroke-linejoin="round"/>
<path d="M335.9 625.8 L337 632.4 L338.5 639" stroke="#a8a8a8" stroke-width="1.1" fill="none" stroke-linejoin="round"/>
<path d="M335.9 625.8 L337 632.4 L338.5 639" stroke="#1e1e1e" stroke-width="1.15" fill="none" stroke-dasharray="5 2" stroke-linejoin="round"/>
<path d="M338.5 639 L340 644.8 L341.4 647.4 L343.6 647.6 L345.8 648.3 L347.6 645.5 L349.5 643.9 L351.3 643.2 L352.7 641.2 L354.2 639.1 L356.4 640.1 L358.9 640.4 L360.8 642.3 L362.2 639.7 L363.3 635.7 L365.1 632.4 L367 629.9 L368.4 625.8 L369.5 620 L371.6 613.1" stroke="#1e1e1e" stroke-width="1.15" fill="none" stroke-linejoin="round"/>
<path d="M371.6 613.1 L373.4 604 L375.2 591.2" stroke="#a8a8a8" stroke-width="1.1" fill="none" stroke-linejoin="round"/>
<path d="M371.6 613.1 L373.4 604 L375.2 591.2" stroke="#1e1e1e" stroke-width="1.15" fill="none" stroke-dasharray="5 2" stroke-linejoin="round"/>
<path d="M375.2 591.2 L376.5 585.7 L378.3 583 L380.2 589.4" stroke="#1e1e1e" stroke-width="1.15" fill="none" stroke-linejoin="round"/>
<path d="M380.2 589.4 L381.4 595.7" stroke="#a8a8a8" stroke-width="1.1" fill="none" stroke-linejoin="round"/>
<path d="M380.2 589.4 L381.4 595.7" stroke="#1e1e1e" stroke-width="1.15" fill="none" stroke-dasharray="5 2" stroke-linejoin="round"/>
<path d="M381.4 595.7 L383.3 600.3" stroke="#1e1e1e" stroke-width="1.15" fill="none" stroke-linejoin="round"/>
<path d="M383.3 600.3 L385.1 611.3 L386.9 622.3 L389.3 633.2 L391.7 643.3" stroke="#a8a8a8" stroke-width="1.1" fill="none" stroke-linejoin="round"/>
<path d="M383.3 600.3 L385.1 611.3 L386.9 622.3 L389.3 633.2 L391.7 643.3" stroke="#1e1e1e" stroke-width="1.15" fill="none" stroke-dasharray="5 2" stroke-linejoin="round"/>
<path d="M391.7 643.3 L393.9 647.8 L396.6 650.6 L398.4 654.2 L401.2 659.7 L403.9 663.4 L407.6 665.8 L440.2 665.8" stroke="#1e1e1e" stroke-width="1.15" fill="none" stroke-linejoin="round"/>
<rect x="558.5" y="27.2" width="21.8" height="141" fill="#fff" stroke="#2a2a2a" stroke-width="1.2"/>
<rect x="558.5" y="67.95" width="21.8" height="100.25" fill="#808080" stroke="#2a2a2a" stroke-width="1.2"/>
<rect x="558.5" y="81.48" width="21.8" height="86.71" fill="#231f20" stroke="#231f20" stroke-width="1.2"/>
<path d="M567.1 79.23H571.7M569.4 79.23V81.48" stroke="#231f20" stroke-width="1.3"/>
<rect x="606.4" y="27.2" width="21.4" height="141" fill="#fff" stroke="#2a2a2a" stroke-width="1.2"/>
<rect x="606.4" y="82.05" width="21.4" height="86.15" fill="#808080" stroke="#2a2a2a" stroke-width="1.2"/>
<rect x="606.4" y="107.57" width="21.4" height="60.63" fill="#231f20" stroke="#231f20" stroke-width="1.2"/>
<path d="M614.8 105.74H619.4M617.1 105.74V107.57" stroke="#231f20" stroke-width="1.3"/>
<path d="M533.8 27.2H684.4" stroke="#3a3a3a" fill="none" stroke-width="1.2"/>
<path d="M684.4 27.2V168.2H533.8" stroke="#3a3a3a" fill="none" stroke-width="1.1"/>
<line x1="537.2" y1="27.2" x2="537.2" y2="168.2" stroke="#8a8a8a" stroke-width="1.2"/>
<text x="528.5" y="174.2" font-size="12" text-anchor="end" fill="#222">0</text>
<line x1="533.8" y1="140" x2="537.2" y2="140" stroke="#555"/>
<text x="528.5" y="146" font-size="12" text-anchor="end" fill="#222">20</text>
<line x1="533.8" y1="111.8" x2="537.2" y2="111.8" stroke="#555"/>
<text x="528.5" y="117.8" font-size="12" text-anchor="end" fill="#222">40</text>
<line x1="533.8" y1="83.6" x2="537.2" y2="83.6" stroke="#555"/>
<text x="528.5" y="89.6" font-size="12" text-anchor="end" fill="#222">60</text>
<line x1="533.8" y1="55.4" x2="537.2" y2="55.4" stroke="#555"/>
<text x="528.5" y="61.4" font-size="12" text-anchor="end" fill="#222">80</text>
<text x="528.5" y="33.2" font-size="12" text-anchor="end" fill="#222">100</text>
<text x="0" y="0" font-size="13.5" text-anchor="middle" fill="#222" transform="translate(502.4 96.9) rotate(-90)">Cell Cycle (%)</text>
<rect x="631.5" y="43.5" width="6.6" height="6.6" fill="#fff" stroke="#222" stroke-width="1"/>
<text x="642.8" y="51.7" font-size="13" text-anchor="start" fill="#222">G2-M</text>
<rect x="631.5" y="64.5" width="6.6" height="6.6" fill="#808080" stroke="#222" stroke-width="1"/>
<text x="642.8" y="72.7" font-size="13" text-anchor="start" fill="#222">S</text>
<rect x="631.5" y="85.5" width="6.6" height="6.6" fill="#231f20" stroke="#222" stroke-width="1"/>
<text x="642.8" y="93.7" font-size="13" text-anchor="start" fill="#222">G0-G1</text>
<text x="617.4" y="104.3" font-size="13" text-anchor="middle" fill="#555">*</text>
<text x="642.6" y="140.2" font-size="13" text-anchor="middle" fill="#666">*</text>
<text x="647.9" y="140.8" font-size="8.7" text-anchor="start" fill="#444">P&lt;0.01</text>
<text x="570.1" y="192.9" font-size="13" text-anchor="middle" fill="#222">-</text>
<text x="618.2" y="193.6" font-size="13" text-anchor="middle" fill="#222">+</text>
<text x="486.6" y="194.2" font-size="13.2" fill="#222">MSCV-D1</text>
<rect x="560.3" y="261.7" width="21.7" height="142.8" fill="#fff" stroke="#2a2a2a" stroke-width="1.2"/>
<rect x="560.3" y="302.97" width="21.7" height="101.53" fill="#808080" stroke="#2a2a2a" stroke-width="1.2"/>
<rect x="560.3" y="317.96" width="21.7" height="86.54" fill="#231f20" stroke="#231f20" stroke-width="1.2"/>
<path d="M568.85 316.54H573.45M571.15 316.54V317.96" stroke="#231f20" stroke-width="1.3"/>
<rect x="606.7" y="261.7" width="21.1" height="142.8" fill="#fff" stroke="#2a2a2a" stroke-width="1.2"/>
<rect x="606.7" y="312.39" width="21.1" height="92.11" fill="#808080" stroke="#2a2a2a" stroke-width="1.2"/>
<rect x="606.7" y="342.95" width="21.1" height="61.55" fill="#231f20" stroke="#231f20" stroke-width="1.2"/>
<path d="M614.95 339.67H619.55M617.25 339.67V342.95" stroke="#231f20" stroke-width="1.3"/>
<path d="M535.1 261.7H683.5" stroke="#3a3a3a" fill="none" stroke-width="1.2"/>
<path d="M683.5 261.7V404.5H535.1" stroke="#3a3a3a" fill="none" stroke-width="1.1"/>
<line x1="538.5" y1="261.7" x2="538.5" y2="404.5" stroke="#3a3a3a" stroke-width="1.2"/>
<text x="532.4" y="410.5" font-size="12.5" text-anchor="end" fill="#222">0</text>
<line x1="535.1" y1="375.94" x2="538.5" y2="375.94" stroke="#555"/>
<text x="532.4" y="381.94" font-size="12.5" text-anchor="end" fill="#222">20</text>
<line x1="535.1" y1="347.38" x2="538.5" y2="347.38" stroke="#555"/>
<text x="532.4" y="353.38" font-size="12.5" text-anchor="end" fill="#222">40</text>
<line x1="535.1" y1="318.82" x2="538.5" y2="318.82" stroke="#555"/>
<text x="532.4" y="324.82" font-size="12.5" text-anchor="end" fill="#222">60</text>
<line x1="535.1" y1="290.26" x2="538.5" y2="290.26" stroke="#555"/>
<text x="532.4" y="296.26" font-size="12.5" text-anchor="end" fill="#222">80</text>
<text x="532.4" y="267.7" font-size="12.5" text-anchor="end" fill="#222">100</text>
<text x="0" y="0" font-size="13.5" text-anchor="middle" fill="#222" transform="translate(508.6 331) rotate(-90)">Cell Cycle (%)</text>
<rect x="632.6" y="277.5" width="6.6" height="6.6" fill="#fff" stroke="#222" stroke-width="1"/>
<text x="643.9" y="285.7" font-size="13" text-anchor="start" fill="#222">G2-M</text>
<rect x="632.6" y="298.5" width="6.6" height="6.6" fill="#808080" stroke="#222" stroke-width="1"/>
<text x="643.9" y="306.7" font-size="13" text-anchor="start" fill="#222">S</text>
<rect x="632.6" y="319.5" width="6.6" height="6.6" fill="#231f20" stroke="#222" stroke-width="1"/>
<text x="643.9" y="327.7" font-size="13" text-anchor="start" fill="#222">G0-G1</text>
<text x="617" y="339.4" font-size="13" text-anchor="middle" fill="#555">*</text>
<text x="642.9" y="373.3" font-size="13" text-anchor="middle" fill="#666">*</text>
<text x="648.6" y="374.8" font-size="8.7" text-anchor="start" fill="#444">P&lt;0.01</text>
<text x="571.7" y="431.3" font-size="13" text-anchor="middle" fill="#222">-</text>
<text x="619.4" y="432.5" font-size="13" text-anchor="middle" fill="#222">+</text>
<text x="472.4" y="432.3" font-size="13.1" fill="#222">cherry-D1<tspan font-size="8.6" dx="1.6" dy="-4.4">NUC</tspan></text>
<rect x="559.9" y="512.8" width="21.6" height="142.4" fill="#fff" stroke="#2a2a2a" stroke-width="1.2"/>
<rect x="559.9" y="569.19" width="21.6" height="86.01" fill="#808080" stroke="#2a2a2a" stroke-width="1.2"/>
<rect x="559.9" y="577.88" width="21.6" height="77.32" fill="#231f20" stroke="#231f20" stroke-width="1.2"/>
<path d="M568.4 575.6H573M570.7 575.6V577.88" stroke="#231f20" stroke-width="1.3"/>
<rect x="604.2" y="512.8" width="21.3" height="142.4" fill="#fff" stroke="#2a2a2a" stroke-width="1.2"/>
<rect x="604.2" y="581.01" width="21.3" height="74.19" fill="#808080" stroke="#2a2a2a" stroke-width="1.2"/>
<rect x="604.2" y="601.94" width="21.3" height="53.26" fill="#231f20" stroke="#231f20" stroke-width="1.2"/>
<path d="M612.55 599.81H617.15M614.85 599.81V601.94" stroke="#231f20" stroke-width="1.3"/>
<path d="M531.5 512.8H679.5" stroke="#7a7a7a" fill="none" stroke-width="1.2"/>
<path d="M679.5 512.8V655.2H531.5" stroke="#3a3a3a" fill="none" stroke-width="1.1"/>
<line x1="534.9" y1="512.8" x2="534.9" y2="655.2" stroke="#8a8a8a" stroke-width="1.2"/>
<text x="530.6" y="660.8" font-size="12.6" text-anchor="end" fill="#222">0</text>
<line x1="531.5" y1="626.72" x2="534.9" y2="626.72" stroke="#555"/>
<text x="530.6" y="632.32" font-size="12.6" text-anchor="end" fill="#222">20</text>
<line x1="531.5" y1="598.24" x2="534.9" y2="598.24" stroke="#555"/>
<text x="530.6" y="603.84" font-size="12.6" text-anchor="end" fill="#222">40</text>
<line x1="531.5" y1="569.76" x2="534.9" y2="569.76" stroke="#555"/>
<text x="530.6" y="575.36" font-size="12.6" text-anchor="end" fill="#222">60</text>
<line x1="531.5" y1="541.28" x2="534.9" y2="541.28" stroke="#555"/>
<text x="530.6" y="546.88" font-size="12.6" text-anchor="end" fill="#222">80</text>
<text x="530.6" y="518.4" font-size="12.6" text-anchor="end" fill="#222">100</text>
<text x="0" y="0" font-size="13.5" text-anchor="middle" fill="#222" transform="translate(505.8 583.6) rotate(-90)">Cell Cycle (%)</text>
<rect x="629.3" y="525.6" width="6.6" height="6.6" fill="#fff" stroke="#222" stroke-width="1"/>
<text x="640.6" y="533.8" font-size="13" text-anchor="start" fill="#222">G2-M</text>
<rect x="629.3" y="546.6" width="6.6" height="6.6" fill="#808080" stroke="#222" stroke-width="1"/>
<text x="640.6" y="554.8" font-size="13" text-anchor="start" fill="#222">S</text>
<rect x="629.3" y="567.6" width="6.6" height="6.6" fill="#231f20" stroke="#222" stroke-width="1"/>
<text x="640.6" y="575.8" font-size="13" text-anchor="start" fill="#222">G0-G1</text>
<text x="615.1" y="599.1" font-size="13" text-anchor="middle" fill="#555">*</text>
<text x="639.9" y="621.4" font-size="13" text-anchor="middle" fill="#666">*</text>
<text x="645.7" y="622.1" font-size="8.7" text-anchor="start" fill="#444">P&lt;0.01</text>
<text x="568.4" y="682.1" font-size="13" text-anchor="middle" fill="#222">-</text>
<text x="617.7" y="682.6" font-size="13" text-anchor="middle" fill="#222">+</text>
<text x="463.3" y="682.1" font-size="13.1" fill="#222">pECFP-D1<tspan font-size="8.7" dx="1.8" dy="-4.4">MEM</tspan></text>
</svg>
</body></html>
